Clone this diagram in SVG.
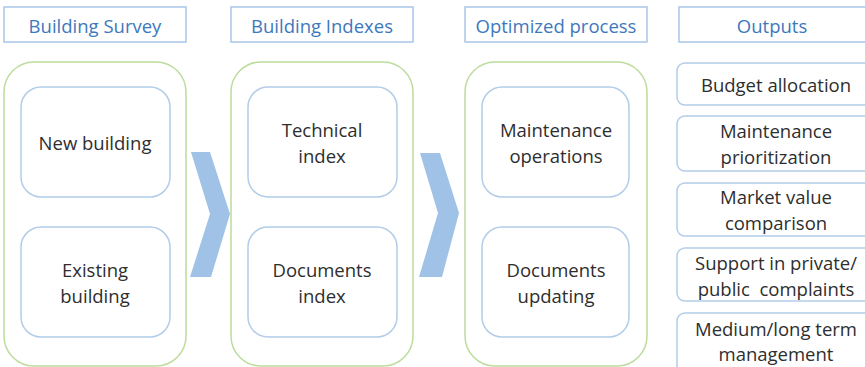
<svg xmlns="http://www.w3.org/2000/svg" width="865" height="367" viewBox="0 0 865 367">
<style>
.hdr{fill:#fff;stroke:#a9c6e8;stroke-width:1.5}
.ht{font-family:"Open Sans","Liberation Sans",sans-serif;font-size:18.5px;fill:#3d78bd;text-anchor:middle;dominant-baseline:central}
.panel{fill:#fff;stroke:#bcdc9c;stroke-width:1.5}
.inner{fill:#fff;stroke:#b3cde9;stroke-width:1.5}
.t{font-family:"Open Sans","Liberation Sans",sans-serif;font-size:18.5px;fill:#2e2e2e;text-anchor:middle;dominant-baseline:central;white-space:pre}
.chev{fill:#9fc2e6}
</style>
<rect width="865" height="367" fill="#fff"/>
<g id="hdr-survey"><rect class="hdr" x="4" y="7" width="182" height="35"/><text class="ht" x="95" y="25">Building Survey</text></g>
<g id="hdr-indexes"><rect class="hdr" x="231" y="7" width="182" height="35"/><text class="ht" x="322" y="25">Building Indexes</text></g>
<g id="hdr-optimized"><rect class="hdr" x="465" y="7" width="182" height="35"/><text class="ht" x="556" y="25">Optimized process</text></g>
<g id="hdr-outputs"><rect class="hdr" x="679" y="7" width="190" height="35"/><text class="ht" x="772" y="25">Outputs</text></g>

<g id="panel-survey"><rect class="panel" x="4" y="62" width="182" height="304" rx="30"/></g>
<g id="panel-indexes"><rect class="panel" x="231" y="62" width="182" height="304" rx="30"/></g>
<g id="panel-optimized"><rect class="panel" x="465" y="62" width="182" height="304" rx="30"/></g>

<g id="new-building"><rect class="inner" x="21" y="87" width="149" height="110" rx="20"/><text class="t" x="95" y="142">New building</text></g>
<g id="existing-building"><rect class="inner" x="21" y="227" width="149" height="110" rx="20"/><text class="t" x="95" y="269">Existing</text><text class="t" x="95" y="295">building</text></g>
<g id="technical-index"><rect class="inner" x="248" y="87" width="149" height="110" rx="20"/><text class="t" x="322" y="129">Technical</text><text class="t" x="322" y="155">index</text></g>
<g id="documents-index"><rect class="inner" x="248" y="227" width="149" height="110" rx="20"/><text class="t" x="322" y="269">Documents</text><text class="t" x="322" y="295">index</text></g>
<g id="maintenance-operations"><rect class="inner" x="482" y="87" width="147" height="110" rx="20"/><text class="t" x="556" y="129">Maintenance</text><text class="t" x="556" y="155">operations</text></g>
<g id="documents-updating"><rect class="inner" x="482" y="227" width="147" height="110" rx="20"/><text class="t" x="556" y="269">Documents</text><text class="t" x="556" y="295">updating</text></g>

<g id="out-budget"><rect class="inner" x="677" y="63" width="200" height="42" rx="8"/><text class="t" x="776" y="84">Budget allocation</text></g>
<g id="out-maintenance"><rect class="inner" x="677" y="116" width="200" height="55" rx="8"/><text class="t" x="776" y="130">Maintenance</text><text class="t" x="776" y="156">prioritization</text></g>
<g id="out-market"><rect class="inner" x="677" y="183" width="200" height="53" rx="8"/><text class="t" x="776" y="196">Market value</text><text class="t" x="776" y="222">comparison</text></g>
<g id="out-support"><rect class="inner" x="677" y="248" width="200" height="53" rx="8"/><text class="t" x="776" y="262">Support in private/</text><text class="t" x="776" y="288">public  complaints</text></g>
<g id="out-medium"><rect class="inner" x="677" y="313" width="200" height="60" rx="8"/><text class="t" x="776" y="328">Medium/long term</text><text class="t" x="776" y="353">management</text></g>

<g id="connectors">
<polygon class="chev" points="191,152 210,152 230,214 211,277 190,277 210,214"/>
<polygon class="chev" points="420,153 440,153 459,213 442,277 419,277 438,213"/>
</g>
</svg>
